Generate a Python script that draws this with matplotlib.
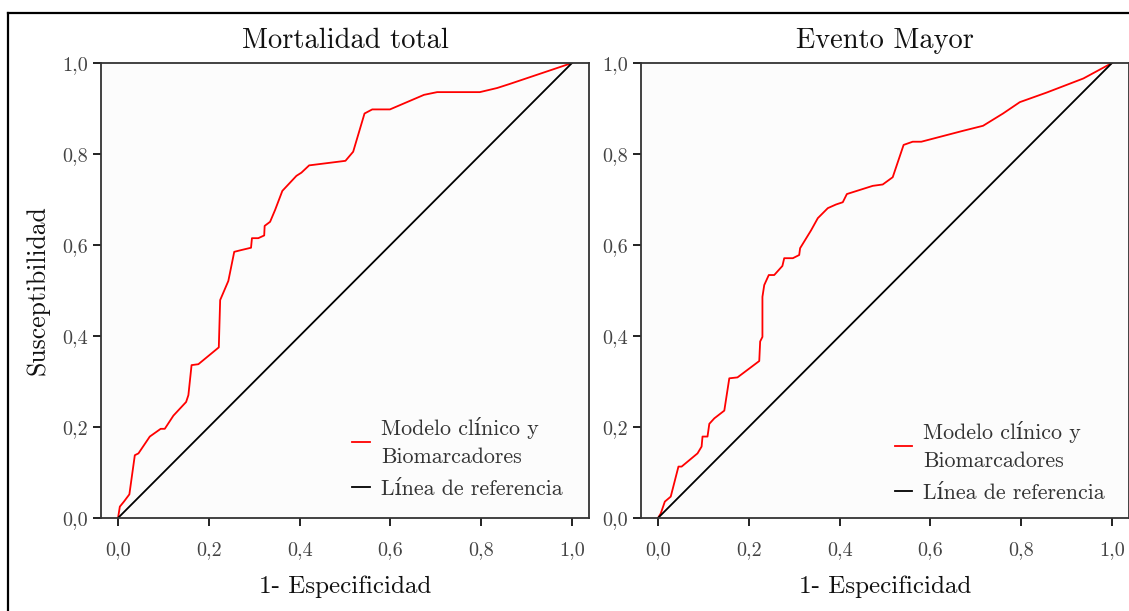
import matplotlib
matplotlib.use("Agg")
import matplotlib.pyplot as plt
from matplotlib.lines import Line2D

plt.rcParams['font.family'] = ['cmr10', 'DejaVu Serif']
plt.rcParams['mathtext.fontset'] = 'cm'
plt.rcParams['axes.unicode_minus'] = False

titles = ["Mortalidad total", "Evento Mayor"]
xlabel = "1- Especificidad"
ylabel = "Susceptibilidad"
ticks = [0.0, 0.2, 0.4, 0.6, 0.8, 1.0]
tick_labels = ["0,0", "0,2", "0,4", "0,6", "0,8", "1,0"]
legend_labels = ["Modelo clínico y\nBiomarcadores", "Línea de referencia"]

mort_fpr = [0.0, 0.004, 0.013, 0.025, 0.037, 0.045, 0.070, 0.094, 0.103, 0.122, 0.150,
            0.155, 0.162, 0.177, 0.222, 0.225, 0.243, 0.256, 0.272, 0.293, 0.295, 0.309,
            0.322, 0.323, 0.335, 0.346, 0.362, 0.393, 0.404, 0.421, 0.501, 0.518, 0.543,
            0.560, 0.599, 0.674, 0.703, 0.797, 0.835, 0.863, 1.0]
mort_tpr = [0.0, 0.025, 0.036, 0.052, 0.138, 0.142, 0.179, 0.196, 0.196, 0.225, 0.255,
            0.270, 0.336, 0.338, 0.375, 0.479, 0.521, 0.585, 0.589, 0.594, 0.615, 0.615,
            0.621, 0.642, 0.651, 0.677, 0.719, 0.752, 0.759, 0.775, 0.785, 0.805, 0.889,
            0.898, 0.898, 0.930, 0.936, 0.936, 0.945, 0.954, 1.0]

ev_fpr = [0.0, 0.006, 0.015, 0.028, 0.045, 0.052, 0.087, 0.096, 0.098, 0.109, 0.113,
          0.124, 0.146, 0.157, 0.175, 0.223, 0.225, 0.230, 0.230, 0.234, 0.244, 0.256,
          0.274, 0.278, 0.297, 0.311, 0.313, 0.337, 0.352, 0.374, 0.392, 0.407, 0.416,
          0.473, 0.495, 0.517, 0.541, 0.561, 0.580, 0.672, 0.716, 0.760, 0.797, 0.856,
          0.937, 1.0]
ev_tpr = [0.0, 0.010, 0.036, 0.047, 0.113, 0.113, 0.142, 0.157, 0.179, 0.179, 0.207,
          0.219, 0.236, 0.307, 0.309, 0.345, 0.388, 0.398, 0.486, 0.512, 0.534, 0.534,
          0.554, 0.571, 0.571, 0.578, 0.593, 0.632, 0.659, 0.681, 0.689, 0.694, 0.712,
          0.730, 0.733, 0.749, 0.820, 0.827, 0.827, 0.851, 0.862, 0.889, 0.914, 0.935,
          0.966, 1.0]

ref_line = [0.0, 1.0]

W, H = 1129, 611
fig = plt.figure(figsize=(W / 100, H / 100), dpi=100)

# outer frame (top and left visible)
fig.add_artist(Line2D([8 / W, 1.0], [1 - 13 / H, 1 - 13 / H], transform=fig.transFigure,
                      color='black', lw=1.6))
fig.add_artist(Line2D([8 / W, 8 / W], [0, 1 - 13 / H], transform=fig.transFigure,
                      color='black', lw=1.6))

axw = 488 / W
axh = 455 / H
positions = [(101 / W, (H - 518) / H, axw, axh), (641 / W, (H - 518) / H, axw, axh)]
data = [(mort_fpr, mort_tpr), (ev_fpr, ev_tpr)]
legend_anchor = [(0.515, 0.042), (0.52, 0.034)]

for i, (pos, (fx, fy)) in enumerate(zip(positions, data)):
    ax = fig.add_axes(pos)
    ax.set_facecolor('#fcfcfc')
    l1, = ax.plot(fx, fy, color='#ff0000', lw=1.3)
    l2, = ax.plot(ref_line, ref_line, color='black', lw=1.3)
    ax.set_xlim(-0.0375, 1.0375)
    ax.set_ylim(0, 1)
    ax.set_xticks(ticks)
    ax.set_xticklabels(tick_labels)
    ax.set_yticks(ticks)
    ax.set_yticklabels(tick_labels)
    ax.tick_params(axis='x', pad=11)
    ax.tick_params(axis='y', pad=4)
    ax.tick_params(direction='out', length=5.5, width=1.4, colors='#222222',
                   labelsize=14.5, labelcolor='#444444')
    for s in ax.spines.values():
        s.set_color('#333333')
        s.set_linewidth(1.3)
    ax.set_title(titles[i], fontsize=20.5, pad=11, color='#111111')
    ax.set_xlabel(xlabel, fontsize=18, labelpad=12, color='#111111')
    if i == 0:
        ax.set_ylabel(ylabel, fontsize=18.5, labelpad=9, color='#111111')
    leg = ax.legend([l1, l2], legend_labels, loc='lower left', bbox_to_anchor=legend_anchor[i],
                    frameon=False, fontsize=15.8, handlelength=0.8, handletextpad=0.5,
                    labelspacing=0.55, borderpad=0, borderaxespad=0, labelcolor='#333333')
    for t in leg.get_texts():
        t.set_linespacing(1.55)

fig.savefig("out.png", dpi=100)
